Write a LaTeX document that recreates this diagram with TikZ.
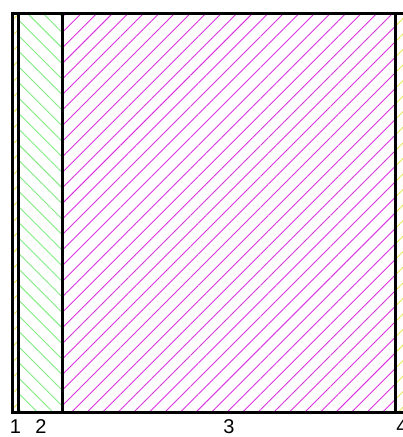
\documentclass[tikz,border=0pt]{standalone}
\usepackage{fontspec}
\setmainfont{Liberation Sans}
\usetikzlibrary{patterns.meta}
\definecolor{hatchyellow}{RGB}{230,230,80}
\definecolor{hatchgreen}{RGB}{130,235,130}
\definecolor{hatchmagenta}{RGB}{220,50,225}
\tikzset{
  layerline/.style={line width=3pt},
  hatchup/.style={pattern={Lines[angle=45,distance=11pt,line width=0.9pt]}},
  hatchdown/.style={pattern={Lines[angle=-45,distance=11pt,line width=0.9pt]}},
  layerlabel/.style={inner sep=0pt}
}
\begin{document}
\begin{tikzpicture}[x=1pt, y=1pt, font=\fontsize{20}{20}\selectfont]
    \def\xa{12.5} \def\xb{18.5} \def\xc{62} \def\xd{395} \def\xe{420}
    \def\yb{24} \def\yt{423.5}
    \useasboundingbox (0,0) rectangle (403,437);
    \begin{scope}
        \clip (0,0) rectangle (403,437);
        % hatched layers
        \fill[hatchup, pattern color=hatchyellow] (\xa,\yb) rectangle (\xb,\yt);
        \fill[hatchdown, pattern color=hatchgreen] (\xb,\yb) rectangle (\xc,\yt);
        \fill[hatchup, pattern color=hatchmagenta] (\xc,\yb) rectangle (\xd,\yt);
        \fill[hatchup, pattern color=hatchyellow] (\xd,\yb) rectangle (\xe,\yt);
        % borders
        \draw[layerline] (\xe,\yt) -- (\xa,\yt) -- (\xa,\yb) -- (\xe,\yb);
        \foreach \xx in {\xb,\xc,\xd} \draw[layerline] (\xx,\yb) -- (\xx,\yt);
        % labels
        \foreach \xx/\name in {15.5/1, 41/2, 229/3, 402/4}
            \node[layerlabel] (lab\name) at (\xx,10) {\name};
    \end{scope}
\end{tikzpicture}
\end{document}
